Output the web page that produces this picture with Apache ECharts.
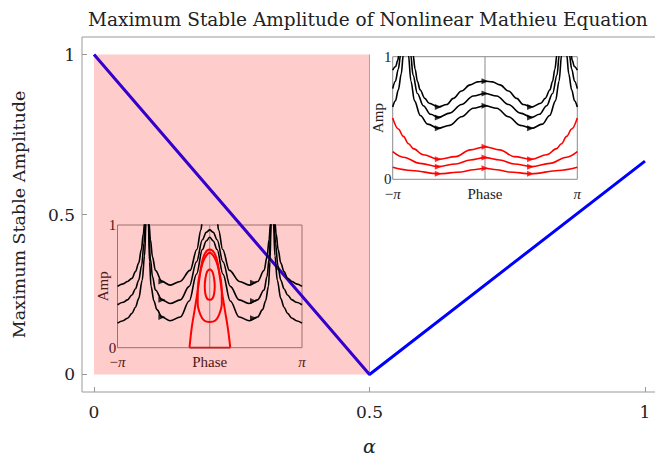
<!DOCTYPE html>
<html><head><meta charset="utf-8">
<script src="https://cdn.jsdelivr.net/npm/echarts@6/dist/echarts.min.js"></script>
<style>html,body{margin:0;padding:0;background:#fff}#c{width:655px;height:460px}</style>
</head><body><div id="c"></div>
<script>
// ---- main chart data ----
const alphaValues = [0, 0.5, 1];
const maxAmplitude = [1, 0, 0.667];
const unstableAlpha = [0, 0.5];
const unstableAmp = [0, 1];
const xTicks = [0, 0.5, 1];
const yTicks = [0, 0.5, 1];
const PI = 3.1416;
const phaseTicks = [-PI, 0, PI];
const phaseTickLabels = ['−π', 'Phase', 'π'];
const ampTicks = [0, 1];
const phaseZeroLine = [[0, 0], [0, 1]];

// ---- inset 1 (upper right) phase portrait ----
const in1BlackA = [[-3.1416,0.89],[-3.04,0.92],[-2.97,0.97],[-2.93,1.02],[-2.69,1.6],[-2.45,1.02],[-2.38,0.90],[-2.30,0.80],[-2.21,0.73],[-2.05,0.66],[-1.90,0.62],[-1.59,0.59],[-1.30,0.61],[-1.08,0.66],[-0.80,0.72],[-0.51,0.77],[-0.25,0.795],[0,0.80],[0.25,0.795],[0.51,0.77],[0.80,0.72],[1.08,0.66],[1.30,0.61],[1.59,0.59],[1.90,0.62],[2.05,0.66],[2.21,0.73],[2.30,0.80],[2.38,0.90],[2.45,1.02],[2.69,1.6],[2.93,1.02],[2.97,0.97],[3.04,0.92],[3.1416,0.89]];
const in1BlackB = [[-3.1416,0.74],[-3.05,0.80],[-2.95,0.90],[-2.87,1.02],[-2.70,1.5],[-2.53,1.02],[-2.45,0.85],[-2.30,0.70],[-2.10,0.60],[-1.85,0.53],[-1.59,0.505],[-1.20,0.54],[-0.80,0.61],[-0.40,0.68],[0,0.70],[0.40,0.68],[0.80,0.61],[1.20,0.54],[1.59,0.505],[1.85,0.53],[2.10,0.60],[2.30,0.70],[2.45,0.85],[2.53,1.02],[2.70,1.5],[2.87,1.02],[2.95,0.90],[3.05,0.80],[3.1416,0.74]];
const in1BlackC = [[-3.1416,0.59],[-3.05,0.64],[-2.95,0.73],[-2.85,0.86],[-2.78,1.02],[-2.70,1.4],[-2.61,1.02],[-2.52,0.80],[-2.40,0.64],[-2.20,0.52],[-1.95,0.45],[-1.59,0.416],[-1.20,0.44],[-0.80,0.51],[-0.40,0.58],[0,0.60],[0.40,0.58],[0.80,0.51],[1.20,0.44],[1.59,0.416],[1.95,0.45],[2.20,0.52],[2.40,0.64],[2.52,0.80],[2.61,1.02],[2.70,1.4],[2.78,1.02],[2.85,0.86],[2.95,0.73],[3.05,0.64],[3.1416,0.59]];
const in1RedA = [[-3.1416,0.50],[-2.95,0.41],[-2.78,0.35],[-2.60,0.29],[-2.44,0.25],[-2.10,0.20],[-1.59,0.163],[-1.00,0.185],[-0.50,0.24],[0,0.266],[0.50,0.24],[1.00,0.185],[1.59,0.163],[2.10,0.20],[2.44,0.25],[2.60,0.29],[2.78,0.35],[2.95,0.41],[3.1416,0.50]];
const in1RedB = [[-3.1416,0.225],[-2.78,0.18],[-2.21,0.13],[-1.59,0.103],[-1.00,0.125],[-0.50,0.158],[0,0.177],[0.50,0.158],[1.00,0.125],[1.59,0.103],[2.21,0.13],[2.78,0.18],[3.1416,0.225]];
const in1RedC = [[-3.1416,0.098],[-2.50,0.072],[-1.59,0.045],[-0.80,0.06],[-0.40,0.078],[0,0.09],[0.40,0.078],[0.80,0.06],[1.59,0.045],[2.50,0.072],[3.1416,0.098]];
const in1BlackArrows = [[-1.59,0.59],[0,0.80],[1.55,0.59],[-1.59,0.505],[0,0.70],[1.55,0.505],[-1.59,0.416],[0,0.60],[1.55,0.416]];
const in1RedArrows = [[-1.59,0.163],[0,0.266],[1.55,0.163],[-1.59,0.103],[0,0.177],[1.55,0.103],[-1.59,0.045],[0,0.09],[1.55,0.045]];

// ---- inset 2 (lower left) phase portrait ----
const in2BlackA = [[-3.1416,0.50],[-2.95,0.52],[-2.80,0.54],[-2.65,0.565],[-2.53,0.62],[-2.42,0.69],[-2.33,0.80],[-2.26,0.93],[-2.22,1.02],[-2.14,1.5],[-2.07,1.02],[-2.02,0.88],[-1.95,0.74],[-1.85,0.63],[-1.63,0.54],[-1.35,0.51],[-1.01,0.54],[-0.67,0.63],[-0.44,0.80],[-0.30,0.96],[-0.26,1.02],[0,1.4],[0.26,1.02],[0.30,0.96],[0.44,0.80],[0.67,0.63],[1.01,0.54],[1.35,0.51],[1.63,0.54],[1.85,0.63],[1.95,0.74],[2.02,0.88],[2.07,1.02],[2.14,1.5],[2.22,1.02],[2.26,0.93],[2.33,0.80],[2.42,0.69],[2.53,0.62],[2.65,0.565],[2.80,0.54],[2.95,0.52],[3.1416,0.50]];
const in2BlackB = [[-3.1416,0.35],[-2.95,0.37],[-2.80,0.39],[-2.65,0.43],[-2.53,0.48],[-2.42,0.55],[-2.32,0.67],[-2.24,0.85],[-2.19,1.02],[-2.13,1.4],[-2.09,1.02],[-2.02,0.72],[-1.95,0.58],[-1.85,0.47],[-1.63,0.39],[-1.35,0.36],[-1.00,0.39],[-0.70,0.50],[-0.45,0.70],[-0.25,0.88],[-0.12,0.94],[0,0.96],[0.12,0.94],[0.25,0.88],[0.45,0.70],[0.70,0.50],[1.00,0.39],[1.35,0.36],[1.63,0.39],[1.85,0.47],[1.95,0.58],[2.02,0.72],[2.09,1.02],[2.13,1.4],[2.19,1.02],[2.24,0.85],[2.32,0.67],[2.42,0.55],[2.53,0.48],[2.65,0.43],[2.80,0.39],[2.95,0.37],[3.1416,0.35]];
const in2BlackC = [[-3.1416,0.20],[-2.95,0.22],[-2.80,0.24],[-2.65,0.28],[-2.53,0.33],[-2.42,0.40],[-2.30,0.55],[-2.22,0.75],[-2.17,1.02],[-2.12,1.3],[-2.09,1.02],[-2.05,0.70],[-2.00,0.50],[-1.90,0.38],[-1.80,0.31],[-1.63,0.25],[-1.35,0.22],[-1.00,0.25],[-0.70,0.38],[-0.45,0.60],[-0.25,0.80],[-0.12,0.87],[0,0.90],[0.12,0.87],[0.25,0.80],[0.45,0.60],[0.70,0.38],[1.00,0.25],[1.35,0.22],[1.63,0.25],[1.80,0.31],[1.90,0.38],[2.00,0.50],[2.05,0.70],[2.09,1.02],[2.12,1.3],[2.17,1.02],[2.22,0.75],[2.30,0.55],[2.42,0.40],[2.53,0.33],[2.65,0.28],[2.80,0.24],[2.95,0.22],[3.1416,0.20]];
const in2RedOuter = [[-0.69,0],[-0.61,0.17],[-0.52,0.30],[-0.40,0.48],[-0.27,0.69],[-0.16,0.77],[0,0.80],[0.16,0.77],[0.27,0.69],[0.40,0.48],[0.52,0.30],[0.61,0.17],[0.70,0]];
const in2RedBase = [[-0.69,0],[0.70,0]];
const in2RedMid = [[0,0.78],[-0.12,0.75],[-0.23,0.70],[-0.32,0.62],[-0.38,0.55],[-0.41,0.45],[-0.41,0.36],[-0.32,0.27],[-0.18,0.22],[0,0.21],[0.18,0.22],[0.32,0.27],[0.41,0.36],[0.41,0.45],[0.38,0.55],[0.32,0.62],[0.23,0.70],[0.12,0.75],[0,0.78]];
const in2RedInner = [[0,0.64],[-0.09,0.62],[-0.15,0.56],[-0.17,0.50],[-0.15,0.44],[-0.09,0.40],[0,0.39],[0.09,0.40],[0.15,0.44],[0.17,0.50],[0.15,0.56],[0.09,0.62],[0,0.64]];
const in2BlackArrows = [[-1.63,0.54],[1.49,0.53],[-1.63,0.39],[1.49,0.38],[-1.63,0.25],[1.49,0.24]];

// ---- build option ----
const SERIF = 'DejaVu Serif';
const TIMES = 'Liberation Serif';
const TXT = '#222';
const FRAME = '#999';

function curve(data, idx, color, width, monotone, z) {
  return { type: 'line', xAxisIndex: idx, yAxisIndex: idx, data: data, smooth: 0.35,
    smoothMonotone: monotone ? 'x' : undefined, symbol: 'none', showSymbol: false,
    lineStyle: { color: color, width: width }, clip: true, silent: true, z: z };
}
function arrows(data, idx, color, z) {
  return { type: 'scatter', xAxisIndex: idx, yAxisIndex: idx, data: data, symbol: 'triangle',
    symbolSize: [6, 7], symbolRotate: -90, itemStyle: { color: color }, silent: true, z: z };
}
function insetAxes(idx) {
  const x = { type: 'value', gridIndex: idx, min: -PI, max: PI,
    axisLine: { show: false, onZero: false }, axisTick: { show: false }, splitLine: { show: false },
    axisLabel: { customValues: phaseTicks, showMinLabel: true, showMaxLabel: true, margin: 7,
      alignMinLabel: 'center', alignMaxLabel: 'center',
      hideOverlap: false, fontFamily: TIMES, fontSize: 15, color: TXT,
      formatter: (v) => { const i = phaseTicks.indexOf(v); const t = phaseTickLabels[i];
        return t.indexOf('π') >= 0 ? t.replace('π', '{i|π}') : t; },
      rich: { i: { fontStyle: 'italic', fontFamily: TIMES, fontSize: 15, color: TXT } } } };
  const y = { type: 'value', gridIndex: idx, min: 0, max: 1,
    axisLine: { show: false, onZero: false }, axisTick: { show: false }, splitLine: { show: false },
    axisLabel: { customValues: ampTicks, showMinLabel: true, showMaxLabel: true, margin: 5,
      alignMinLabel: 'center', alignMaxLabel: 'center',
      fontFamily: TIMES, fontSize: 15, color: TXT },
    name: 'Amp', nameLocation: 'middle', nameGap: 7, nameMoveOverlap: false,
    nameTextStyle: { fontFamily: TIMES, fontSize: 15, color: TXT } };
  return [x, y];
}
const [ix1, iy1] = insetAxes(1);
const [ix2, iy2] = insetAxes(2);

const option = {
  animation: false,
  backgroundColor: '#fff',
  title: { text: 'Maximum Stable Amplitude of Nonlinear Mathieu Equation', left: 88, top: 10, padding: 0,
    textStyle: { fontFamily: SERIF, fontSize: 18.5, fontWeight: 'normal', color: TXT } },
  grid: [
    { left: 82, top: 37, width: 575, height: 355, show: true, borderColor: FRAME, borderWidth: 1, backgroundColor: 'transparent', outerBoundsMode: 'none', containLabel: false },
    { left: 392.7, top: 56.7, width: 184.6, height: 122.6, show: true, borderColor: '#8a8a8a', borderWidth: 1, backgroundColor: '#fff', outerBoundsMode: 'none', containLabel: false },
    { left: 117.5, top: 225, width: 184.5, height: 122.7, show: true, borderColor: '#8a8a8a', borderWidth: 1, backgroundColor: 'transparent', outerBoundsMode: 'none', containLabel: false }
  ],
  xAxis: [
    { type: 'value', gridIndex: 0, min: -0.0218, max: 1.0218,
      axisLine: { show: false, onZero: false }, splitLine: { show: false },
      axisTick: { customValues: xTicks, inside: true, length: 5, lineStyle: { color: FRAME } },
      axisLabel: { customValues: xTicks, margin: 11, fontFamily: SERIF, fontSize: 17, color: TXT,
        formatter: v => String(v) },
      name: 'α', nameLocation: 'middle', nameGap: 44, nameMoveOverlap: false,
      nameTextStyle: { fontFamily: SERIF, fontSize: 19, fontStyle: 'italic', color: TXT } },
    ix1, ix2
  ],
  yAxis: [
    { type: 'value', gridIndex: 0, min: -0.0547, max: 1.0547,
      axisLine: { show: false, onZero: false }, splitLine: { show: false },
      axisTick: { customValues: yTicks, inside: true, length: 5, lineStyle: { color: FRAME } },
      axisLabel: { customValues: yTicks, margin: 7, fontFamily: SERIF, fontSize: 17, color: TXT,
        formatter: v => String(v) },
      name: 'Maximum Stable Amplitude', nameLocation: 'middle', nameGap: 54, nameMoveOverlap: false,
      nameTextStyle: { fontFamily: SERIF, fontSize: 17.5, color: TXT } },
    iy1, iy2
  ],
  series: [
    { type: 'line', xAxisIndex: 1, yAxisIndex: 1, data: phaseZeroLine, symbol: 'none', lineStyle: { color: '#8a8a8a', width: 1 }, z: 1, silent: true },
    { type: 'line', xAxisIndex: 2, yAxisIndex: 2, data: phaseZeroLine, symbol: 'none', lineStyle: { color: '#8a8a8a', width: 1 }, z: 5, silent: true },
    curve(in1BlackA, 1, '#000', 1.6, true, 2),
    curve(in1BlackB, 1, '#000', 1.6, true, 2),
    curve(in1BlackC, 1, '#000', 1.6, true, 2),
    curve(in1RedA, 1, '#ff0000', 1.6, true, 2),
    curve(in1RedB, 1, '#ff0000', 1.6, true, 2),
    curve(in1RedC, 1, '#ff0000', 1.6, true, 2),
    arrows(in1BlackArrows, 1, '#000', 2),
    arrows(in1RedArrows, 1, '#ff0000', 2),
    curve(in2BlackA, 2, '#000', 1.6, true, 5),
    curve(in2BlackB, 2, '#000', 1.6, true, 5),
    curve(in2BlackC, 2, '#000', 1.6, true, 5),
    curve(in2RedOuter, 2, '#ff0000', 2, false, 5),
    curve(in2RedMid, 2, '#ff0000', 2, false, 5),
    curve(in2RedInner, 2, '#ff0000', 2, false, 5),
    { type: 'line', xAxisIndex: 2, yAxisIndex: 2, data: in2RedBase, symbol: 'none', lineStyle: { color: '#c02020', width: 2 }, z: 5, silent: true },
    arrows(in2BlackArrows, 2, '#000', 5),
    { type: 'line', xAxisIndex: 0, yAxisIndex: 0, data: alphaValues.map((a, i) => [a, maxAmplitude[i]]),
      symbol: 'none', lineStyle: { color: '#0000ff', width: 3 }, z: 3, silent: true },
    { type: 'line', xAxisIndex: 0, yAxisIndex: 0,
      data: [[unstableAlpha[0], unstableAmp[1]], [unstableAlpha[1], unstableAmp[1]]],
      symbol: 'none', lineStyle: { width: 0, opacity: 0 },
      areaStyle: { color: 'rgba(255,0,0,0.2)', opacity: 1, origin: 'auto' }, z: 4, silent: true },
    { type: 'line', xAxisIndex: 0, yAxisIndex: 0,
      data: [[unstableAlpha[1], unstableAmp[0]], [unstableAlpha[1], unstableAmp[1]]],
      symbol: 'none', lineStyle: { color: 'rgba(255,0,0,0.45)', width: 1 }, z: 4, silent: true }
  ]
};
const chart = echarts.init(document.getElementById('c'), null, { renderer: 'svg' });
chart.setOption(option);
</script>
</body></html>
